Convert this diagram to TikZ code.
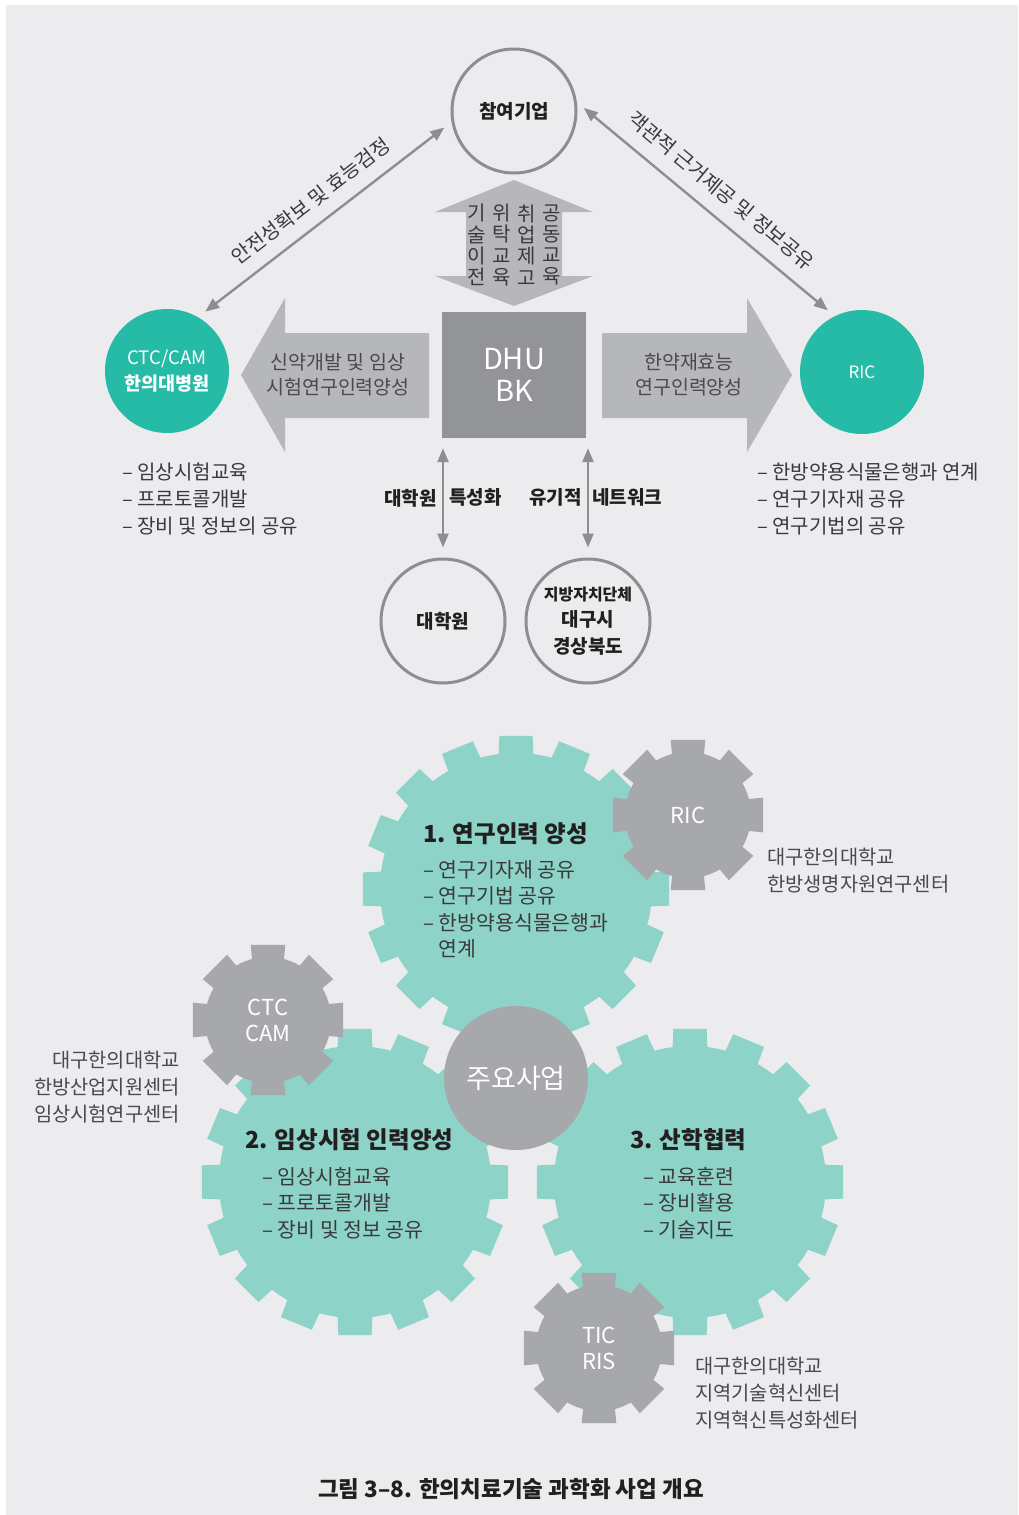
\documentclass[tikz,border=0pt]{standalone}
\usepackage{fontspec}
\setmainfont{Noto Sans CJK KR}
\usetikzlibrary{arrows.meta,calc}
\definecolor{bgcol}{HTML}{ECECEE}
\definecolor{ringgrey}{HTML}{8E8E90}
\definecolor{blockgrey}{HTML}{B6B7BA}
\definecolor{boxgrey}{HTML}{939497}
\definecolor{tealdark}{HTML}{26BBA6}
\definecolor{teallight}{HTML}{8DD3C7}
\definecolor{geargrey}{HTML}{A7A8AC}
\definecolor{textdark}{HTML}{3A3A3C}
\definecolor{textmid}{HTML}{4A4A4C}
\definecolor{textblack}{HTML}{231F20}

% centre, body radius, tip radius, teeth, half angle at base, half angle at tip, colour
\newcommand{\cogwheel}[7]{%
  \fill[#7] (#1) circle (#2);
  \foreach \k in {1,...,#4}
    \fill[#7] ($(#1)+({\k*360/#4-#5}:{#2-2})$) -- ($(#1)+({\k*360/#4-#6}:#3)$)
      -- ($(#1)+({\k*360/#4+#6}:#3)$) -- ($(#1)+({\k*360/#4+#5}:{#2-2})$) -- cycle;
}

\tikzset{
  ring/.style={circle,draw=ringgrey,line width=3pt,minimum size=124pt,inner sep=0pt,align=center,
    text=textblack,font=\bfseries\fontsize{19}{26.5}\selectfont},
  tealdisc/.style={circle,fill=tealdark,minimum size=124pt,inner sep=0pt,align=center,text=white},
  link/.style={{Triangle[length=14pt,width=11pt]}-{Triangle[length=14pt,width=11pt]},
    draw=ringgrey,line width=2.4pt,shorten <=9pt,shorten >=9pt},
  linklabel/.style={text=textdark,inner sep=0pt,font=\fontsize{20}{22}\selectfont},
  arrowtext/.style={text=textmid,inner sep=0pt,align=center,font=\fontsize{19.5}{25}\selectfont},
  columntext/.style={text=textdark,inner sep=0pt,align=center,font=\fontsize{20}{21.3}\selectfont},
  listtext/.style={text=textdark,inner sep=0pt,align=left,font=\fontsize{20}{27}\selectfont},
  sidetext/.style={text=textmid,inner sep=0pt,font=\fontsize{19.8}{27}\selectfont},
  keylabel/.style={text=textblack,inner sep=0pt,font=\bfseries\fontsize{19}{22}\selectfont},
  geartitle/.style={text=textblack,inner sep=0pt,anchor=west,font=\bfseries\fontsize{23.5}{28}\selectfont},
  gearlist/.style={text=textdark,inner sep=0pt,anchor=west,align=left,font=\fontsize{20.5}{26.5}\selectfont},
  cogtext/.style={text=white,inner sep=0pt,align=center,font=\fontsize{22}{26}\selectfont},
}

\begin{document}
\begin{tikzpicture}[x=1pt,y=-1pt]
\useasboundingbox (0,0) rectangle (1018,1515);
\fill[white] (0,0) rectangle (1018,1515);
\fill[bgcol] (6,5) rectangle (1018,1515);

% block arrows round DHU BK
\fill[blockgrey] (466,212) -- (435,212) -- (514,180) -- (593,212) -- (562,212) -- (562,276)
  -- (593,276) -- (514,306) -- (435,276) -- (466,276) -- cycle;
\fill[blockgrey] (429,333) -- (285,333) -- (285,298) -- (241,375) -- (285,452) -- (285,418) -- (429,418) -- cycle;
\fill[blockgrey] (602,333) -- (747,333) -- (747,298) -- (792,375) -- (747,452) -- (747,418) -- (602,418) -- cycle;

\foreach \x/\txt in {477/{기\\술\\이\\전},502/{위\\탁\\교\\육},527/{취\\업\\제\\고},552/{공\\동\\교\\육}}
  \node[columntext] (col\x) at (\x,245) {\txt};

\node[arrowtext] (leftarrowtext) at (338,375) {신약개발 및 임상\\시험연구인력양성};
\node[arrowtext] (rightarrowtext) at (689,375) {한약재효능\\연구인력양성};

\node[fill=boxgrey,minimum width=144pt,minimum height=126pt,inner sep=0pt,align=center,text=white,
  font=\fontsize{29}{32}\selectfont] (dhu) at (514,375) {DHU\\BK};

\node[ring] (firm) at (514,111) {참여기업};
\node[tealdisc,font=\fontsize{18.5}{26}\selectfont] (ctc) at (167,371) {CTC/CAM\\{\bfseries 한의대병원}};
\node[tealdisc,font=\fontsize{17}{20}\selectfont] (ric) at (862,372) {RIC};
\node[ring] (grad) at (443,621) {대학원};
\node[ring] (local) at (588,621) {{\fontsize{16}{26.5}\selectfont 지방자치단체}\\대구시\\경상북도};

\draw[link] (ctc.60) -- node[sloped,above=13pt,linklabel] (safety) {안전성확보 및 효능검정} (firm.190);
\draw[link] (firm.8) -- node[sloped,above=14pt,linklabel] (evidence) {객관적 근거제공 및 정보공유} (ric.116);

\draw[link,shorten <=10pt,shorten >=10pt] (grad.north |- dhu.south) --
  node[left=5pt,keylabel] (gradkey) {대학원} node[right=5pt,keylabel] (special) {특성화} (grad.north);
\draw[link,shorten <=10pt,shorten >=10pt] (local.north |- dhu.south) --
  node[left=5pt,keylabel] (organic) {유기적} node[right=3pt,keylabel] (network) {네트워크} (local.north);

\node[listtext,anchor=west] (ctclist) at (122,499) {– 임상시험교육\\– 프로토콜개발\\– 장비 및 정보의 공유};
\node[listtext,anchor=west] (riclist) at (757,499) {– 한방약용식물은행과 연계\\– 연구기자재 공유\\– 연구기법의 공유};

% gears
\coordinate (g1) at (516,889);
\coordinate (g2) at (355,1182);
\coordinate (g3) at (690,1182);
\coordinate (g4) at (688,815);
\coordinate (g5) at (268,1020);
\coordinate (g6) at (599,1348);

\cogwheel{g1}{136}{154}{16}{7.5}{6.2}{teallight}
\cogwheel{g2}{136}{154}{16}{7.5}{6.2}{teallight}
\cogwheel{g3}{136}{154}{16}{7.5}{6.2}{teallight}
\cogwheel{g4}{63}{77}{8}{15}{13}{geargrey}
\cogwheel{g5}{63}{77}{8}{15}{13}{geargrey}
\cogwheel{g6}{63}{77}{8}{15}{13}{geargrey}

\node[circle,fill=geargrey,minimum size=144pt,inner sep=0pt,text=white,
  font=\fontsize{27}{30}\selectfont] (core) at (516,1078) {주요사업};

\node[cogtext] (ricgear) at (g4) {RIC};
\node[cogtext] (ctcgear) at (g5) {CTC\\CAM};
\node[cogtext] (ticgear) at (g6) {TIC\\RIS};

\node[geartitle] (title1) at (423,834) {1. 연구인력 양성};
\node[gearlist] (list1) at (423,909.5) {– 연구기자재 공유\\– 연구기법 공유\\– 한방약용식물은행과\\\phantom{– }연계};
\node[geartitle] (title2) at (245,1140) {2. 임상시험 인력양성};
\node[gearlist] (list2) at (262,1203) {– 임상시험교육\\– 프로토콜개발\\– 장비 및 정보 공유};
\node[geartitle] (title3) at (630,1140) {3. 산학협력};
\node[gearlist] (list3) at (643,1203) {– 교육훈련\\– 장비활용\\– 기술지도};

\node[sidetext,anchor=west,align=left] (ricside) at (767,871) {대구한의대학교\\한방생명자원연구센터};
\node[sidetext,anchor=east,align=right] (ctcside) at (180,1087) {대구한의대학교\\한방산업지원센터\\임상시험연구센터};
\node[sidetext,anchor=west,align=left] (ticside) at (695,1393) {대구한의대학교\\지역기술혁신센터\\지역혁신특성화센터};

\node[text=textblack,inner sep=0pt,font=\bfseries\fontsize{22.5}{24}\selectfont] (caption) at (511,1489)
  {그림 3–8. 한의치료기술 과학화 사업 개요};
\end{tikzpicture}
\end{document}
